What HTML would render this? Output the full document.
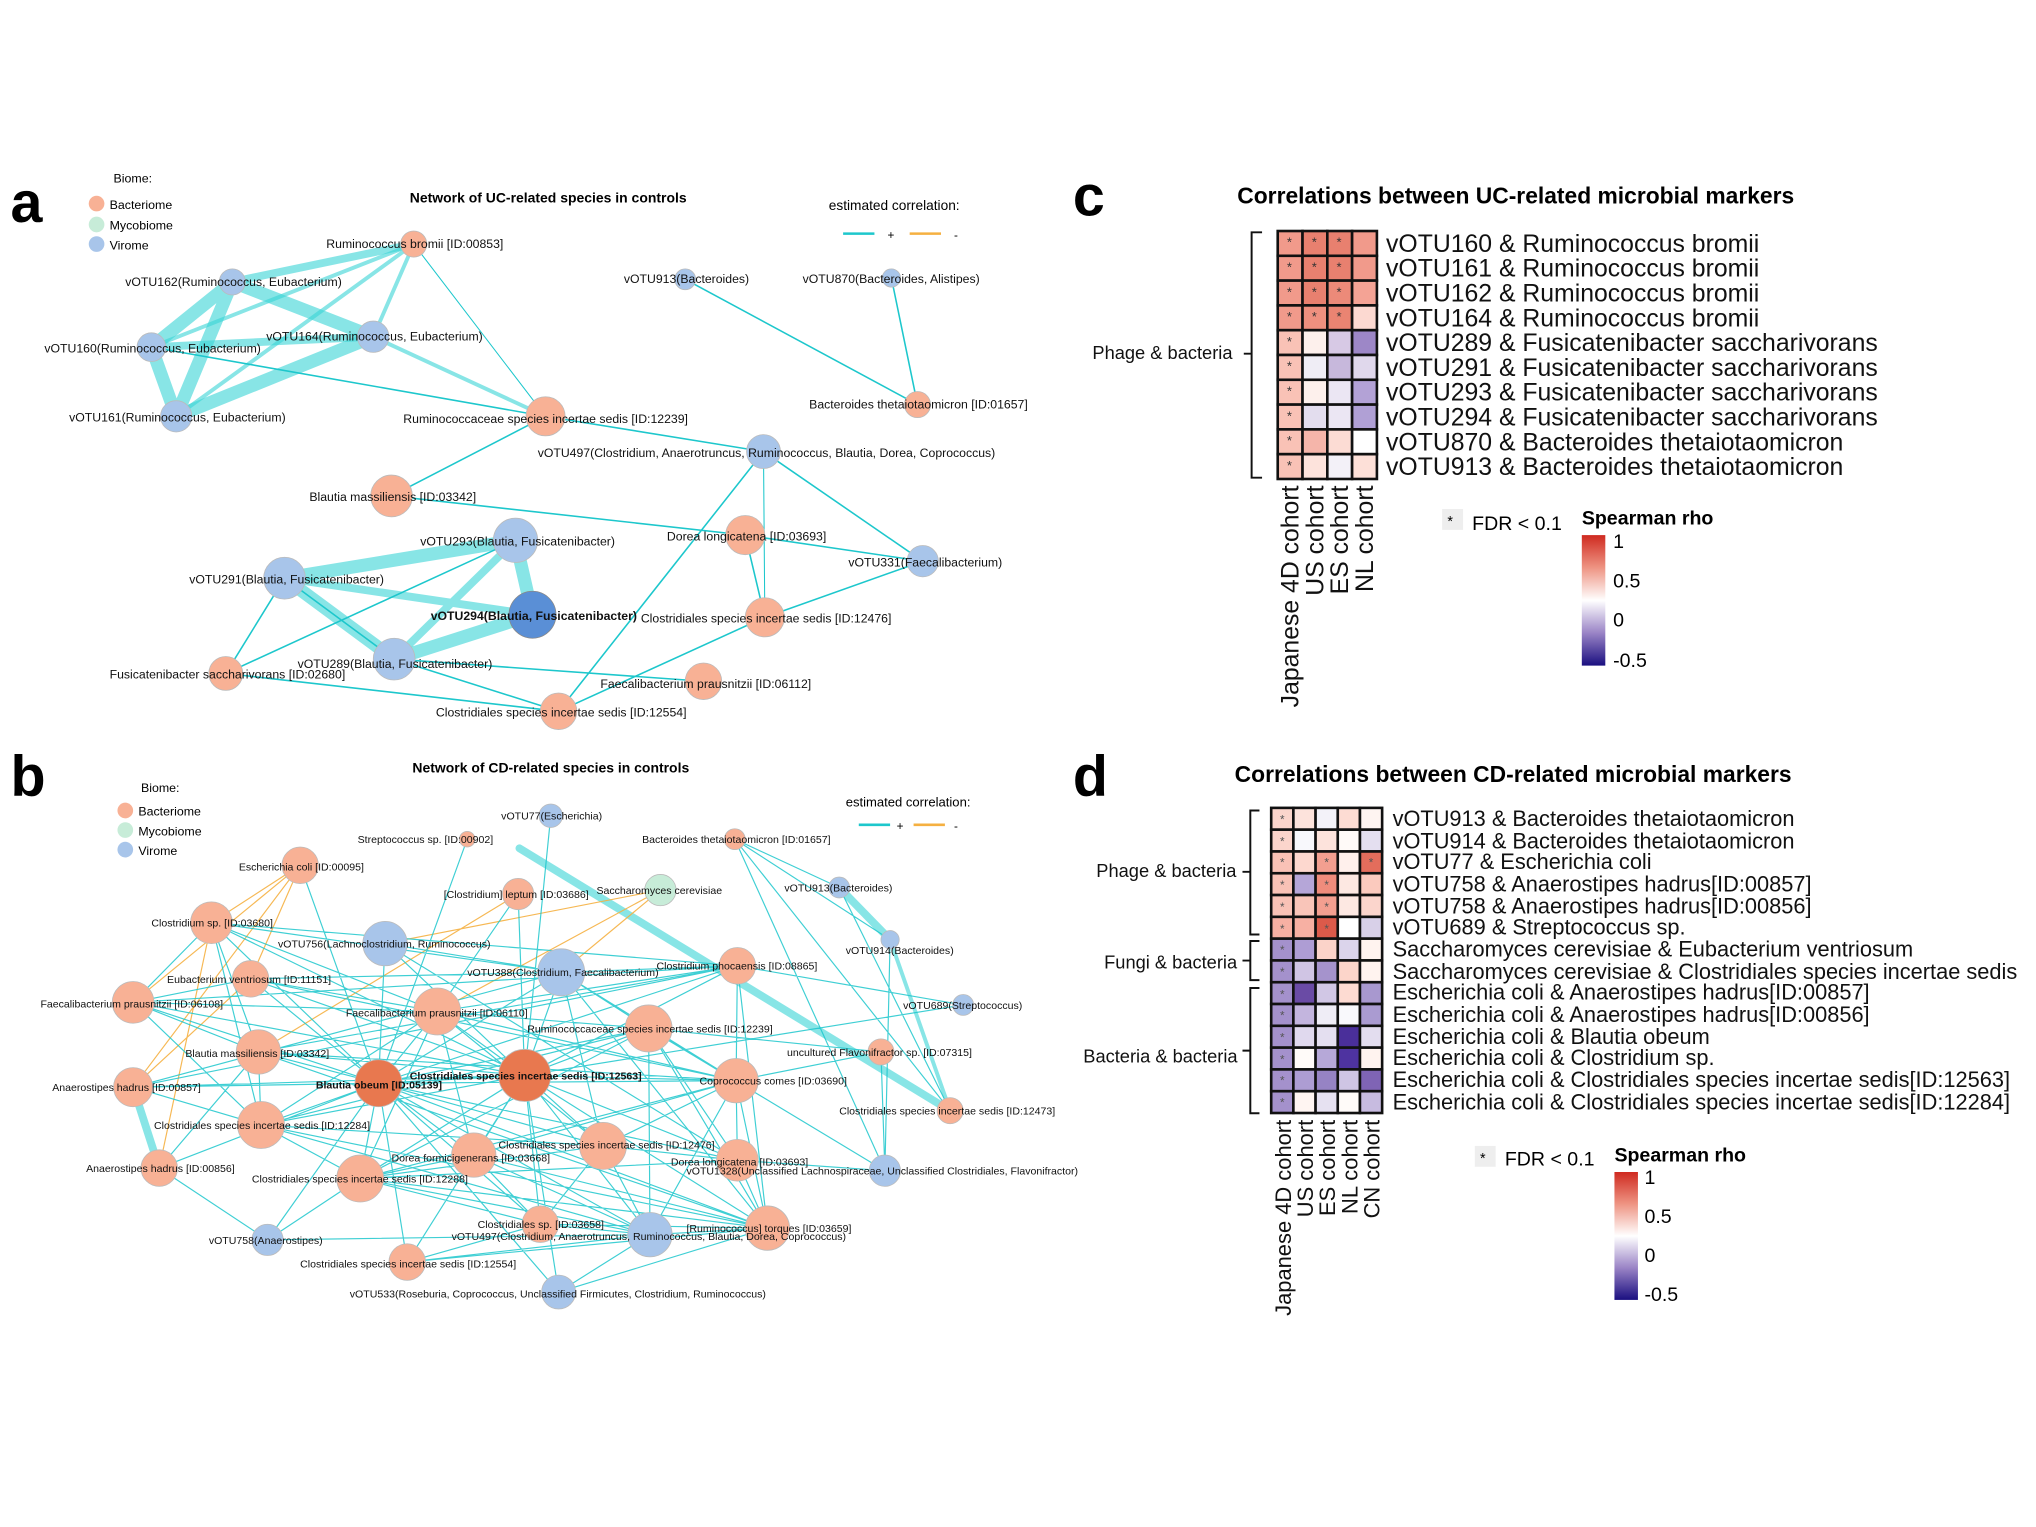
<!DOCTYPE html>
<html><head><meta charset="utf-8">
<style>
html,body{margin:0;padding:0;background:#fff;}
svg{display:block;}
text{font-family:"Liberation Sans",Arial,sans-serif;}
.n{font-size:9.4px;fill:#111;}
.hl{font-size:19px;fill:#111;}
.hd{font-size:14px;fill:#111;}
.ax{font-size:19px;fill:#111;}
</style></head><body>
<svg width="2036" height="1527" viewBox="0 0 1560 1170" xmlns="http://www.w3.org/2000/svg">
<rect width="1560" height="1170" fill="#fff"/>
<defs>
<linearGradient id="cb" x1="0" y1="0" x2="0" y2="1">
<stop offset="0" stop-color="#cf2a20"/><stop offset="0.25" stop-color="#ee9483"/><stop offset="0.5" stop-color="#ffffff"/><stop offset="0.75" stop-color="#9a84c6"/><stop offset="1" stop-color="#1a0f80"/>
</linearGradient>
</defs>

<!-- panel letters -->
<text x="8" y="170" font-size="44" font-weight="bold">a</text>
<text x="8" y="610" font-size="44" font-weight="bold">b</text>
<text x="822" y="165" font-size="44" font-weight="bold">c</text>
<text x="822" y="610" font-size="44" font-weight="bold">d</text>

<!-- ===== Network a ===== -->
<text x="87" y="140" font-size="9.5">Biome:</text>
<circle cx="74" cy="156" r="6" fill="#f8b195"/><text x="84" y="160" font-size="9.5">Bacteriome</text>
<circle cx="74" cy="172" r="6" fill="#c7ecd8"/><text x="84" y="176" font-size="9.5">Mycobiome</text>
<circle cx="74" cy="187" r="6" fill="#a8c5ea"/><text x="84" y="191" font-size="9.5">Virome</text>
<text x="314" y="155" font-size="10.7" font-weight="bold">Network of UC-related species in controls</text>
<text x="635" y="161" font-size="10.5">estimated correlation:</text>
<line x1="646" y1="179" x2="670" y2="179" stroke="#1dc7cc" stroke-width="2"/><text x="680" y="183" font-size="9">+</text>
<line x1="697" y1="179" x2="721" y2="179" stroke="#f5b041" stroke-width="2"/><text x="731" y="183" font-size="9">-</text>

<g stroke="#38d3d6" stroke-opacity="0.6" stroke-linecap="round">
<path stroke-width="10" d="M178 216L286 258M178 216L116 266M178 216L135 319M116 266L135 319M135 319L286 258M395 414L218 443M218 443L302 505M302 505L408 471M395 414L408 471"/>
<path stroke-width="6" d="M116 266L286 258M317 187L178 216M218 443L408 471M395 414L302 505"/>
<path stroke-width="3" d="M317 187L116 266M317 187L135 319M317 187L286 258M286 258L418 319"/>
</g>
<g stroke="#1dc7cc" stroke-width="1.2" fill="none">
<path d="M116 266L418 319M418 319L585 346M525 214L703 310M683 213L703 310M300 380L571 410M418 319L300 380M585 346L707 430M571 410L707 430M585 346L428 545M586 473L571 410M586 473L707 430M586 473L428 545M302 505L539 522M173 516L428 545M173 516L218 443M173 516L395 414M302 505L428 545M218 443L302 505"/>
<path stroke-width="0.8" d="M317 187L418 319M585 346L586 473"/>
</g>
<g stroke="#bbb" stroke-width="0.6">
<circle cx="317" cy="187" r="10" fill="#f8b195"/>
<circle cx="178" cy="216" r="10" fill="#a8c5ea"/>
<circle cx="286" cy="258" r="12" fill="#a8c5ea"/>
<circle cx="116" cy="266" r="11" fill="#a8c5ea"/>
<circle cx="135" cy="319" r="12" fill="#a8c5ea"/>
<circle cx="418" cy="319" r="15" fill="#f8b195"/>
<circle cx="525" cy="214" r="8" fill="#a8c5ea"/>
<circle cx="683" cy="213" r="7" fill="#a8c5ea"/>
<circle cx="703" cy="310" r="10" fill="#f8b195"/>
<circle cx="585" cy="346" r="13" fill="#a8c5ea"/>
<circle cx="300" cy="380" r="16" fill="#f8b195"/>
<circle cx="395" cy="414" r="17" fill="#a8c5ea"/>
<circle cx="571" cy="410" r="15" fill="#f8b195"/>
<circle cx="707" cy="430" r="12" fill="#a8c5ea"/>
<circle cx="218" cy="443" r="16" fill="#a8c5ea"/>
<circle cx="408" cy="471" r="18" fill="#5a8fd6" stroke="#888"/>
<circle cx="586" cy="473" r="15" fill="#f8b195"/>
<circle cx="302" cy="505" r="16" fill="#a8c5ea"/>
<circle cx="173" cy="516" r="13" fill="#f8b195"/>
<circle cx="539" cy="522" r="14" fill="#f8b195"/>
<circle cx="428" cy="545" r="14" fill="#f8b195"/>
</g>
<g class="n">
<text x="250" y="190">Ruminococcus bromii [ID:00853]</text>
<text x="96" y="219">vOTU162(Ruminococcus, Eubacterium)</text>
<text x="204" y="261">vOTU164(Ruminococcus, Eubacterium)</text>
<text x="34" y="270">vOTU160(Ruminococcus, Eubacterium)</text>
<text x="53" y="323">vOTU161(Ruminococcus, Eubacterium)</text>
<text x="309" y="324">Ruminococcaceae species incertae sedis [ID:12239]</text>
<text x="478" y="217">vOTU913(Bacteroides)</text>
<text x="615" y="217">vOTU870(Bacteroides, Alistipes)</text>
<text x="620" y="313">Bacteroides thetaiotaomicron [ID:01657]</text>
<text x="412" y="350">vOTU497(Clostridium, Anaerotruncus, Ruminococcus, Blautia, Dorea, Coprococcus)</text>
<text x="237" y="384">Blautia massiliensis [ID:03342]</text>
<text x="322" y="418">vOTU293(Blautia, Fusicatenibacter)</text>
<text x="511" y="414">Dorea longicatena [ID:03693]</text>
<text x="650" y="434">vOTU331(Faecalibacterium)</text>
<text x="145" y="447">vOTU291(Blautia, Fusicatenibacter)</text>
<text x="330" y="475" font-weight="bold">vOTU294(Blautia, Fusicatenibacter)</text>
<text x="491" y="477">Clostridiales species incertae sedis [ID:12476]</text>
<text x="228" y="512">vOTU289(Blautia, Fusicatenibacter)</text>
<text x="84" y="520">Fusicatenibacter saccharivorans [ID:02680]</text>
<text x="460" y="527">Faecalibacterium prausnitzii [ID:06112]</text>
<text x="334" y="549">Clostridiales species incertae sedis [ID:12554]</text>
</g>

<!-- ===== Network b ===== -->
<text x="108" y="607" font-size="9.5">Biome:</text>
<circle cx="96" cy="621" r="6" fill="#f8b195"/><text x="106" y="625" font-size="9.5">Bacteriome</text>
<circle cx="96" cy="636" r="6" fill="#c7ecd8"/><text x="106" y="640" font-size="9.5">Mycobiome</text>
<circle cx="96" cy="651" r="6" fill="#a8c5ea"/><text x="106" y="655" font-size="9.5">Virome</text>
<text x="316" y="592" font-size="10.7" font-weight="bold">Network of CD-related species in controls</text>
<text x="648" y="618" font-size="10">estimated correlation:</text>
<line x1="658" y1="632" x2="682" y2="632" stroke="#1dc7cc" stroke-width="2"/><text x="687" y="636" font-size="9">+</text>
<line x1="700" y1="632" x2="724" y2="632" stroke="#f5b041" stroke-width="2"/><text x="731" y="636" font-size="9">-</text>

<g stroke="#38d3d6" stroke-opacity="0.6" stroke-linecap="round">
<path stroke-width="6" d="M102 833L122 895M643 680L682 720M398 650L728 851"/>
<path stroke-width="3" d="M682 720L728 851"/>
</g>
<g stroke="#f5b041" stroke-width="0.9" fill="none" opacity="0.9">
<path d="M230 663L162 707M230 663L102 768M230 663L192 750M506 682L295 723M506 682L430 745M397 685L198 806M102 833L192 750M122 895L162 707M230 663L102 833M506 682L335 775"/>
</g>
<g stroke="#1dc7cc" stroke-width="0.9" fill="none" stroke-opacity="0.85">
<path d="M563 643L643 680M563 643L682 720M563 643L728 851M563 643L678 897M643 680L728 851M682 720L678 897M738 770L565 740M675 806L564 828M675 806L497 788M675 806L678 897M678 897L565 889M678 897L497 788
M290 830L162 707M290 830L295 723M290 830L192 750M290 830L430 745M290 830L565 740M290 830L102 768M290 830L335 775M290 830L497 788M290 830L198 806M290 830L102 833M290 830L402 824M290 830L564 828M290 830L200 862M290 830L462 878M290 830L363 885M290 830L565 889M290 830L276 903M290 830L414 938M290 830L498 946M290 830L588 941M290 830L312 967M290 830L428 990M290 830L205 950M290 830L122 895M290 830L230 663
M402 824L162 707M402 824L295 723M402 824L192 750M402 824L430 745M402 824L565 740M402 824L102 768M402 824L335 775M402 824L497 788M402 824L198 806M402 824L102 833M402 824L564 828M402 824L200 862M402 824L462 878M402 824L363 885M402 824L565 889M402 824L276 903M402 824L414 938M402 824L498 946M402 824L588 941M402 824L312 967M402 824L428 990M402 824L738 770
M335 775L162 707M335 775L192 750M335 775L102 768M335 775L497 788M335 775L565 740M335 775L200 862M335 775L276 903M335 775L564 828M335 775L462 878M335 775L363 885
M497 788L430 745M497 788L564 828M497 788L565 889M497 788L588 941M497 788L498 946M497 788L276 903M497 788L200 862
M564 828L565 889M564 828L462 878M564 828L588 941M564 828L363 885M564 828L276 903M564 828L498 946
M462 878L565 889M462 878L498 946M462 878L414 938M462 878L276 903M462 878L200 862
M363 885L276 903M363 885L414 938M363 885L498 946M363 885L588 941
M498 946L588 941M498 946L276 903M498 946L414 938M498 946L312 967M498 946L428 990M498 946L205 950
M414 938L276 903M414 938L588 941M414 938L312 967
M276 903L200 862M276 903L588 941M276 903L205 950M276 903L565 889
M200 862L102 768M200 862L198 806M200 862L162 707M200 862L588 941M200 862L498 946
M198 806L102 768M198 806L162 707M198 806L565 740M198 806L564 828M198 806L588 941
M102 768L162 707M102 768L565 740M102 768L192 750M162 707L430 745M162 707L565 740M192 750L430 745M192 750L564 828
M430 745L565 740M430 745L564 828M430 745L462 878M430 745L588 941M295 723L430 745M295 723L565 889
M565 889L588 941M565 740L564 828M565 740L588 941M422 625L402 824M358 643L290 830M397 685L402 824M397 685L335 775
M102 833L200 862M102 833L565 740M102 833L430 745M122 895L198 806M205 950L122 895M312 967L588 941M428 990L588 941"/>
</g>
<g stroke="#bbb" stroke-width="0.6">
<circle cx="422" cy="625" r="9" fill="#a8c5ea"/>
<circle cx="358" cy="643" r="6" fill="#f8b195"/>
<circle cx="563" cy="643" r="8" fill="#f8b195"/>
<circle cx="230" cy="663" r="14" fill="#f8b195"/>
<circle cx="397" cy="685" r="12" fill="#f8b195"/>
<circle cx="506" cy="682" r="12" fill="#c7ecd8"/>
<circle cx="643" cy="680" r="8" fill="#a8c5ea"/>
<circle cx="162" cy="707" r="16" fill="#f8b195"/>
<circle cx="295" cy="723" r="17" fill="#a8c5ea"/>
<circle cx="682" cy="720" r="7" fill="#a8c5ea"/>
<circle cx="192" cy="750" r="14" fill="#f8b195"/>
<circle cx="430" cy="745" r="18" fill="#a8c5ea"/>
<circle cx="565" cy="740" r="14" fill="#f8b195"/>
<circle cx="738" cy="770" r="8" fill="#a8c5ea"/>
<circle cx="102" cy="768" r="16" fill="#f8b195"/>
<circle cx="335" cy="775" r="18" fill="#f8b195"/>
<circle cx="497" cy="788" r="18" fill="#f8b195"/>
<circle cx="198" cy="806" r="17" fill="#f8b195"/>
<circle cx="675" cy="806" r="10" fill="#f8b195"/>
<circle cx="102" cy="833" r="15" fill="#f8b195"/>
<circle cx="290" cy="830" r="18" fill="#e8784f"/>
<circle cx="402" cy="824" r="20" fill="#e8784f"/>
<circle cx="564" cy="828" r="17" fill="#f8b195"/>
<circle cx="200" cy="862" r="18" fill="#f8b195"/>
<circle cx="462" cy="878" r="18" fill="#f8b195"/>
<circle cx="728" cy="851" r="10" fill="#f8b195"/>
<circle cx="363" cy="885" r="17" fill="#f8b195"/>
<circle cx="565" cy="889" r="16" fill="#f8b195"/>
<circle cx="122" cy="895" r="14" fill="#f8b195"/>
<circle cx="678" cy="897" r="12" fill="#a8c5ea"/>
<circle cx="276" cy="903" r="18" fill="#f8b195"/>
<circle cx="414" cy="938" r="14" fill="#f8b195"/>
<circle cx="498" cy="946" r="17" fill="#a8c5ea"/>
<circle cx="588" cy="941" r="17" fill="#f8b195"/>
<circle cx="205" cy="950" r="12" fill="#a8c5ea"/>
<circle cx="312" cy="967" r="14" fill="#f8b195"/>
<circle cx="428" cy="990" r="13" fill="#a8c5ea"/>
</g>
<g class="n" style="font-size:8.1px">
<text x="384" y="628">vOTU77(Escherichia)</text>
<text x="274" y="646">Streptococcus sp. [ID:00902]</text>
<text x="492" y="646">Bacteroides thetaiotaomicron [ID:01657]</text>
<text x="183" y="667">Escherichia coli [ID:00095]</text>
<text x="340" y="688">[Clostridium] leptum [ID:03686]</text>
<text x="457" y="685">Saccharomyces cerevisiae</text>
<text x="601" y="683">vOTU913(Bacteroides)</text>
<text x="116" y="710">Clostridium sp. [ID:03680]</text>
<text x="213" y="726">vOTU756(Lachnoclostridium, Ruminococcus)</text>
<text x="648" y="731">vOTU914(Bacteroides)</text>
<text x="128" y="753">Eubacterium ventriosum [ID:11151]</text>
<text x="358" y="748">vOTU388(Clostridium, Faecalibacterium)</text>
<text x="503" y="743">Clostridium phocaensis [ID:08865]</text>
<text x="692" y="773">vOTU689(Streptococcus)</text>
<text x="31" y="772">Faecalibacterium prausnitzii [ID:06108]</text>
<text x="265" y="779">Faecalibacterium prausnitzii [ID:06110]</text>
<text x="404" y="791">Ruminococcaceae species incertae sedis [ID:12239]</text>
<text x="142" y="810">Blautia massiliensis [ID:03342]</text>
<text x="603" y="809">uncultured Flavonifractor sp. [ID:07315]</text>
<text x="40" y="836">Anaerostipes hadrus [ID:00857]</text>
<text x="242" y="834" font-weight="bold">Blautia obeum [ID:05139]</text>
<text x="314" y="827" font-weight="bold">Clostridiales species incertae sedis [ID:12563]</text>
<text x="536" y="831">Coprococcus comes [ID:03690]</text>
<text x="118" y="865">Clostridiales species incertae sedis [ID:12284]</text>
<text x="382" y="880">Clostridiales species incertae sedis [ID:12476]</text>
<text x="643" y="854">Clostridiales species incertae sedis [ID:12473]</text>
<text x="300" y="890">Dorea formicigenerans [ID:03668]</text>
<text x="514" y="893">Dorea longicatena [ID:03693]</text>
<text x="526" y="900">vOTU1328(Unclassified Lachnospiraceae, Unclassified Clostridiales, Flavonifractor)</text>
<text x="66" y="898">Anaerostipes hadrus [ID:00856]</text>
<text x="193" y="906">Clostridiales species incertae sedis [ID:12288]</text>
<text x="366" y="941">Clostridiales sp. [ID:03658]</text>
<text x="346" y="950">vOTU497(Clostridium, Anaerotruncus, Ruminococcus, Blautia, Dorea, Coprococcus)</text>
<text x="526" y="944">[Ruminococcus] torques [ID:03659]</text>
<text x="160" y="953">vOTU758(Anaerostipes)</text>
<text x="230" y="971">Clostridiales species incertae sedis [ID:12554]</text>
<text x="268" y="994">vOTU533(Roseburia, Coprococcus, Unclassified Firmicutes, Clostridium, Ruminococcus)</text>
</g>

<!-- ===== Heatmap c ===== -->
<text x="948" y="156" font-size="17.5" font-weight="bold">Correlations between UC-related microbial markers</text>
<g transform="translate(-5,0)">
<path d="M972 178H964V366H972M964 271H958" stroke="#111" stroke-width="1.5" fill="none"/>
<text x="842" y="275" class="hd">Phage &amp; bacteria</text>
<g stroke="#111" stroke-width="2">
<rect x="984" y="177" width="19" height="19" fill="#f19a8b"/><rect x="1003" y="177" width="19" height="19" fill="#e8806f"/><rect x="1022" y="177" width="19" height="19" fill="#e8806f"/><rect x="1041" y="177" width="19" height="19" fill="#f19a8b"/>
<rect x="984" y="196" width="19" height="19" fill="#f19a8b"/><rect x="1003" y="196" width="19" height="19" fill="#e8806f"/><rect x="1022" y="196" width="19" height="19" fill="#e8806f"/><rect x="1041" y="196" width="19" height="19" fill="#f19a8b"/>
<rect x="984" y="215" width="19" height="19" fill="#f19a8b"/><rect x="1003" y="215" width="19" height="19" fill="#e8806f"/><rect x="1022" y="215" width="19" height="19" fill="#ec8a79"/><rect x="1041" y="215" width="19" height="19" fill="#f4a395"/>
<rect x="984" y="234" width="19" height="19" fill="#f19a8b"/><rect x="1003" y="234" width="19" height="19" fill="#ee907f"/><rect x="1022" y="234" width="19" height="19" fill="#ea8472"/><rect x="1041" y="234" width="19" height="19" fill="#fcd9d1"/>
<rect x="984" y="253" width="19" height="19" fill="#f9c2b6"/><rect x="1003" y="253" width="19" height="19" fill="#fdf0ec"/><rect x="1022" y="253" width="19" height="19" fill="#d7c9e5"/><rect x="1041" y="253" width="19" height="19" fill="#9d87c7"/>
<rect x="984" y="272" width="19" height="19" fill="#f9c2b6"/><rect x="1003" y="272" width="19" height="19" fill="#efedf5"/><rect x="1022" y="272" width="19" height="19" fill="#c7b8dc"/><rect x="1041" y="272" width="19" height="19" fill="#e0d8ec"/>
<rect x="984" y="291" width="19" height="19" fill="#f9c2b6"/><rect x="1003" y="291" width="19" height="19" fill="#fdf0ec"/><rect x="1022" y="291" width="19" height="19" fill="#ebe6f3"/><rect x="1041" y="291" width="19" height="19" fill="#b3a2d6"/>
<rect x="984" y="310" width="19" height="19" fill="#f9c2b6"/><rect x="1003" y="310" width="19" height="19" fill="#e3ddee"/><rect x="1022" y="310" width="19" height="19" fill="#ebe6f3"/><rect x="1041" y="310" width="19" height="19" fill="#b0a0d5"/>
<rect x="984" y="329" width="19" height="19" fill="#f9c2b6"/><rect x="1003" y="329" width="19" height="19" fill="#f5b5aa"/><rect x="1022" y="329" width="19" height="19" fill="#fcdcd4"/><rect x="1041" y="329" width="19" height="19" fill="#ffffff"/>
<rect x="984" y="348" width="19" height="19" fill="#f9c2b6"/><rect x="1003" y="348" width="19" height="19" fill="#fde3dc"/><rect x="1022" y="348" width="19" height="19" fill="#f3f1f8"/><rect x="1041" y="348" width="19" height="19" fill="#fde0d8"/>
</g>
<g font-size="10" fill="#333" text-anchor="middle">
<text x="993" y="189">*</text><text x="1012" y="189">*</text><text x="1031" y="189">*</text>
<text x="993" y="208">*</text><text x="1012" y="208">*</text><text x="1031" y="208">*</text>
<text x="993" y="227">*</text><text x="1012" y="227">*</text><text x="1031" y="227">*</text>
<text x="993" y="246">*</text><text x="1012" y="246">*</text><text x="1031" y="246">*</text>
<text x="993" y="265">*</text><text x="993" y="284">*</text><text x="993" y="303">*</text><text x="993" y="322">*</text><text x="993" y="341">*</text><text x="993" y="360">*</text>
</g>
<g class="hl">
<text x="1067" y="193">vOTU160 &amp; Ruminococcus bromii</text>
<text x="1067" y="212">vOTU161 &amp; Ruminococcus bromii</text>
<text x="1067" y="231">vOTU162 &amp; Ruminococcus bromii</text>
<text x="1067" y="250">vOTU164 &amp; Ruminococcus bromii</text>
<text x="1067" y="269">vOTU289 &amp; Fusicatenibacter saccharivorans</text>
<text x="1067" y="288">vOTU291 &amp; Fusicatenibacter saccharivorans</text>
<text x="1067" y="307">vOTU293 &amp; Fusicatenibacter saccharivorans</text>
<text x="1067" y="326">vOTU294 &amp; Fusicatenibacter saccharivorans</text>
<text x="1067" y="345">vOTU870 &amp; Bacteroides thetaiotaomicron</text>
<text x="1067" y="364">vOTU913 &amp; Bacteroides thetaiotaomicron</text>
</g>
<g class="ax">
<text transform="translate(1000,372) rotate(-90)" text-anchor="end">Japanese 4D cohort</text>
<text transform="translate(1019,372) rotate(-90)" text-anchor="end">US cohort</text>
<text transform="translate(1038,372) rotate(-90)" text-anchor="end">ES cohort</text>
<text transform="translate(1057,372) rotate(-90)" text-anchor="end">NL cohort</text>
</g>
</g>
<rect x="1105" y="390" width="16" height="16" fill="#eee"/><text x="1109" y="403" font-size="11">*</text>
<text x="1128" y="406" font-size="15">FDR &lt; 0.1</text>
<text x="1212" y="402" font-size="15" font-weight="bold">Spearman rho</text>
<rect x="1212" y="410" width="18" height="100" fill="url(#cb)"/>
<g font-size="15"><text x="1236" y="420">1</text><text x="1236" y="450">0.5</text><text x="1236" y="480">0</text><text x="1236" y="511">-0.5</text></g>

<!-- ===== Heatmap d ===== -->
<text x="946" y="599" font-size="17.5" font-weight="bold">Correlations between CD-related microbial markers</text>
<g transform="translate(-5,0)">
<g stroke="#111" stroke-width="1.5" fill="none">
<path d="M970 621H963V716H970M963 668H957"/>
<path d="M970 721H963V751H970M963 736H957"/>
<path d="M970 757H963V853H970M963 805H957"/>
</g>
<text x="845" y="672" class="hd">Phage &amp; bacteria</text>
<text x="851" y="742" class="hd">Fungi &amp; bacteria</text>
<text x="835" y="814" class="hd">Bacteria &amp; bacteria</text>
<g stroke="#111" stroke-width="2">
<rect x="979" y="619" width="17" height="16.7" fill="#fbd5cc"/><rect x="996" y="619" width="17" height="16.7" fill="#fde3dc"/><rect x="1013" y="619" width="17" height="16.7" fill="#f3f2f9"/><rect x="1030" y="619" width="17" height="16.7" fill="#fddcd3"/><rect x="1047" y="619" width="17" height="16.7" fill="#fef4f1"/>
<rect x="979" y="635.7" width="17" height="16.7" fill="#fbd5cc"/><rect x="996" y="635.7" width="17" height="16.7" fill="#f8f8fc"/><rect x="1013" y="635.7" width="17" height="16.7" fill="#fde3dc"/><rect x="1030" y="635.7" width="17" height="16.7" fill="#fffaf8"/><rect x="1047" y="635.7" width="17" height="16.7" fill="#e4dff0"/>
<rect x="979" y="652.4" width="17" height="16.7" fill="#f9c2b6"/><rect x="996" y="652.4" width="17" height="16.7" fill="#fdd8cf"/><rect x="1013" y="652.4" width="17" height="16.7" fill="#f39f90"/><rect x="1030" y="652.4" width="17" height="16.7" fill="#fff0ec"/><rect x="1047" y="652.4" width="17" height="16.7" fill="#e36d5c"/>
<rect x="979" y="669.1" width="17" height="16.7" fill="#f9c2b6"/><rect x="996" y="669.1" width="17" height="16.7" fill="#b5a6d8"/><rect x="1013" y="669.1" width="17" height="16.7" fill="#f08c7c"/><rect x="1030" y="669.1" width="17" height="16.7" fill="#fde8e2"/><rect x="1047" y="669.1" width="17" height="16.7" fill="#fbcabe"/>
<rect x="979" y="685.8" width="17" height="16.7" fill="#f9c2b6"/><rect x="996" y="685.8" width="17" height="16.7" fill="#f9c5b9"/><rect x="1013" y="685.8" width="17" height="16.7" fill="#f39f90"/><rect x="1030" y="685.8" width="17" height="16.7" fill="#fde8e2"/><rect x="1047" y="685.8" width="17" height="16.7" fill="#fbd5cc"/>
<rect x="979" y="702.5" width="17" height="16.7" fill="#f7b0a3"/><rect x="996" y="702.5" width="17" height="16.7" fill="#f7b0a3"/><rect x="1013" y="702.5" width="17" height="16.7" fill="#dc5a4a"/><rect x="1030" y="702.5" width="17" height="16.7" fill="#ffffff"/><rect x="1047" y="702.5" width="17" height="16.7" fill="#d8d0e8"/>
<rect x="979" y="719.2" width="17" height="16.7" fill="#a491cc"/><rect x="996" y="719.2" width="17" height="16.7" fill="#ae9dd4"/><rect x="1013" y="719.2" width="17" height="16.7" fill="#fbd3c9"/><rect x="1030" y="719.2" width="17" height="16.7" fill="#dbd4eb"/><rect x="1047" y="719.2" width="17" height="16.7" fill="#fff3ef"/>
<rect x="979" y="735.9" width="17" height="16.7" fill="#a491cc"/><rect x="996" y="735.9" width="17" height="16.7" fill="#d0c5e4"/><rect x="1013" y="735.9" width="17" height="16.7" fill="#a593cc"/><rect x="1030" y="735.9" width="17" height="16.7" fill="#fcd5ca"/><rect x="1047" y="735.9" width="17" height="16.7" fill="#fff3ef"/>
<rect x="979" y="752.6" width="17" height="16.7" fill="#a491cc"/><rect x="996" y="752.6" width="17" height="16.7" fill="#6a4ba5"/><rect x="1013" y="752.6" width="17" height="16.7" fill="#d1c7e5"/><rect x="1030" y="752.6" width="17" height="16.7" fill="#fddbd2"/><rect x="1047" y="752.6" width="17" height="16.7" fill="#a898cf"/>
<rect x="979" y="769.3" width="17" height="16.7" fill="#a491cc"/><rect x="996" y="769.3" width="17" height="16.7" fill="#c3b5de"/><rect x="1013" y="769.3" width="17" height="16.7" fill="#efedf6"/><rect x="1030" y="769.3" width="17" height="16.7" fill="#f9f9fc"/><rect x="1047" y="769.3" width="17" height="16.7" fill="#aa9bd1"/>
<rect x="979" y="786" width="17" height="16.7" fill="#a491cc"/><rect x="996" y="786" width="17" height="16.7" fill="#e0d9ee"/><rect x="1013" y="786" width="17" height="16.7" fill="#e4dff0"/><rect x="1030" y="786" width="17" height="16.7" fill="#4a2f9a"/><rect x="1047" y="786" width="17" height="16.7" fill="#e3ddef"/>
<rect x="979" y="802.7" width="17" height="16.7" fill="#a491cc"/><rect x="996" y="802.7" width="17" height="16.7" fill="#fffbf9"/><rect x="1013" y="802.7" width="17" height="16.7" fill="#b6a8d8"/><rect x="1030" y="802.7" width="17" height="16.7" fill="#4e33a0"/><rect x="1047" y="802.7" width="17" height="16.7" fill="#fff3ef"/>
<rect x="979" y="819.4" width="17" height="16.7" fill="#a491cc"/><rect x="996" y="819.4" width="17" height="16.7" fill="#ad9dd3"/><rect x="1013" y="819.4" width="17" height="16.7" fill="#9683c4"/><rect x="1030" y="819.4" width="17" height="16.7" fill="#cfc5e4"/><rect x="1047" y="819.4" width="17" height="16.7" fill="#7f64b5"/>
<rect x="979" y="836.1" width="17" height="16.7" fill="#a491cc"/><rect x="996" y="836.1" width="17" height="16.7" fill="#fff5f2"/><rect x="1013" y="836.1" width="17" height="16.7" fill="#e6e1f1"/><rect x="1030" y="836.1" width="17" height="16.7" fill="#fffbf9"/><rect x="1047" y="836.1" width="17" height="16.7" fill="#c7bbe0"/>
</g>
<g font-size="9" fill="#555" text-anchor="middle">
<text x="987.5" y="631">*</text><text x="987.5" y="648">*</text><text x="987.5" y="664">*</text><text x="987.5" y="681">*</text><text x="987.5" y="698">*</text><text x="987.5" y="715">*</text><text x="987.5" y="731">*</text><text x="987.5" y="748">*</text><text x="987.5" y="765">*</text><text x="987.5" y="781">*</text><text x="987.5" y="798">*</text><text x="987.5" y="815">*</text><text x="987.5" y="831">*</text><text x="987.5" y="848">*</text>
<text x="1021.5" y="664">*</text><text x="1021.5" y="681">*</text><text x="1021.5" y="698">*</text><text x="1021.5" y="715">*</text><text x="1055.5" y="664">*</text>
</g>
<g class="hd" style="font-size:16.7px">
<text x="1072" y="633">vOTU913 &amp; Bacteroides thetaiotaomicron</text>
<text x="1072" y="650">vOTU914 &amp; Bacteroides thetaiotaomicron</text>
<text x="1072" y="666">vOTU77 &amp; Escherichia coli</text>
<text x="1072" y="683">vOTU758 &amp; Anaerostipes hadrus[ID:00857]</text>
<text x="1072" y="700">vOTU758 &amp; Anaerostipes hadrus[ID:00856]</text>
<text x="1072" y="716">vOTU689 &amp; Streptococcus sp.</text>
<text x="1072" y="733">Saccharomyces cerevisiae &amp; Eubacterium ventriosum</text>
<text x="1072" y="750">Saccharomyces cerevisiae &amp; Clostridiales species incertae sedis</text>
<text x="1072" y="766">Escherichia coli &amp; Anaerostipes hadrus[ID:00857]</text>
<text x="1072" y="783">Escherichia coli &amp; Anaerostipes hadrus[ID:00856]</text>
<text x="1072" y="800">Escherichia coli &amp; Blautia obeum</text>
<text x="1072" y="816">Escherichia coli &amp; Clostridium sp.</text>
<text x="1072" y="833">Escherichia coli &amp; Clostridiales species incertae sedis[ID:12563]</text>
<text x="1072" y="850">Escherichia coli &amp; Clostridiales species incertae sedis[ID:12284]</text>
</g>
<g class="ax" style="font-size:16.8px">
<text transform="translate(994,858) rotate(-90)" text-anchor="end">Japanese 4D cohort</text>
<text transform="translate(1011,858) rotate(-90)" text-anchor="end">US cohort</text>
<text transform="translate(1028,858) rotate(-90)" text-anchor="end">ES cohort</text>
<text transform="translate(1045,858) rotate(-90)" text-anchor="end">NL cohort</text>
<text transform="translate(1062,858) rotate(-90)" text-anchor="end">CN cohort</text>
</g>
</g>
<rect x="1130" y="878" width="16" height="16" fill="#eee"/><text x="1134" y="891" font-size="11">*</text>
<text x="1153" y="893" font-size="15">FDR &lt; 0.1</text>
<text x="1237" y="890" font-size="15" font-weight="bold">Spearman rho</text>
<rect x="1237" y="898" width="18" height="98" fill="url(#cb)"/>
<g font-size="15"><text x="1260" y="907">1</text><text x="1260" y="937">0.5</text><text x="1260" y="967">0</text><text x="1260" y="997">-0.5</text></g>
</svg>
</body></html>
